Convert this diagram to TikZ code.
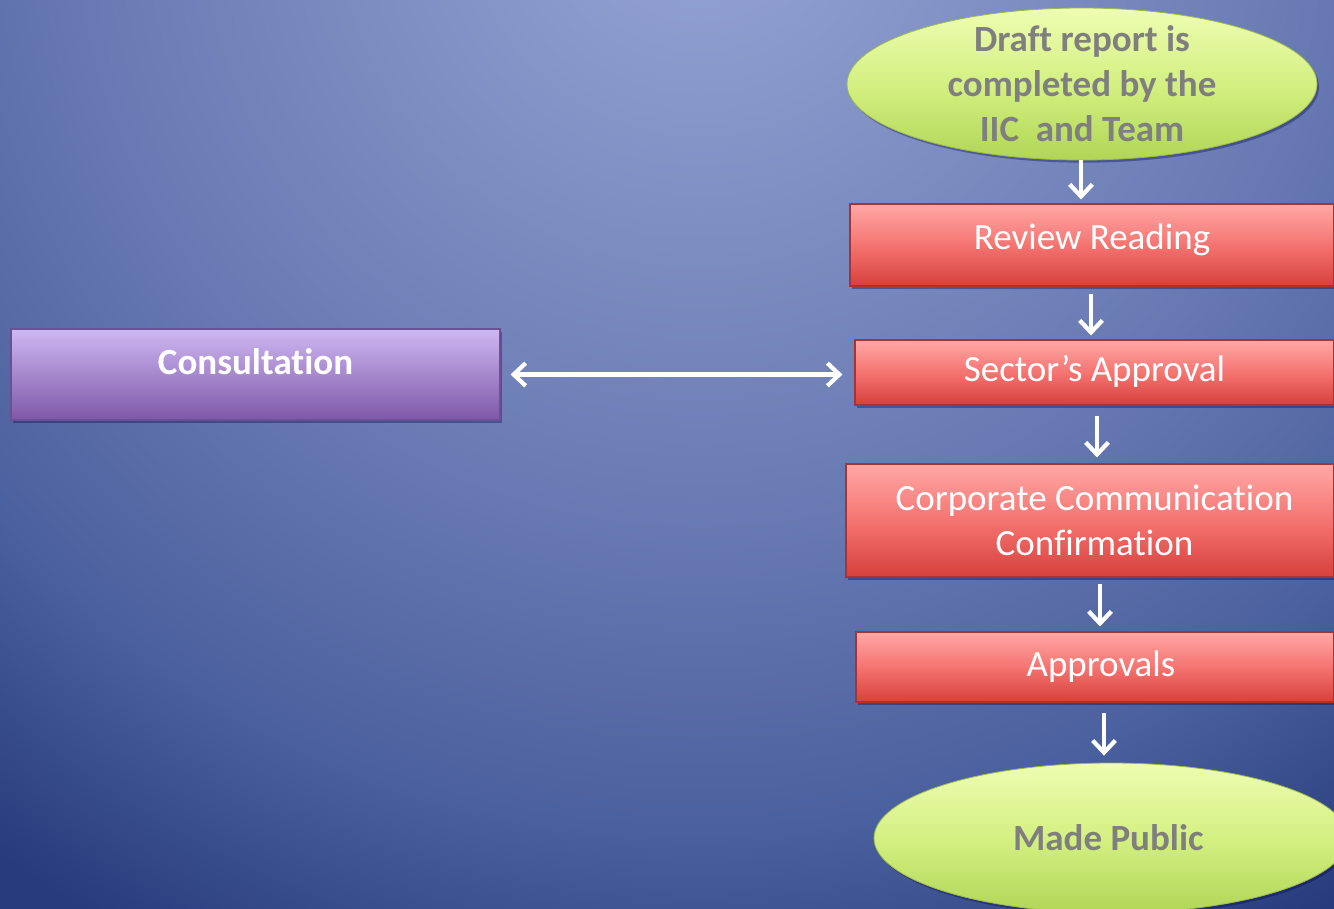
\documentclass[tikz,border=0pt]{standalone}
\usepackage{fontspec}
\setmainfont{Carlito}[Ligatures=NoCommon]
\usetikzlibrary{arrows.meta,shapes.geometric,shadows,calc}

\definecolor{bgc0}{RGB}{150,165,212}
\definecolor{bgc1}{RGB}{106,123,180}
\definecolor{bgc2}{RGB}{75,96,158}
\definecolor{bgc3}{RGB}{40,60,125}
\definecolor{redtop}{RGB}{255,168,166}
\definecolor{redmid}{RGB}{245,116,113}
\definecolor{redbot}{RGB}{214,64,60}
\definecolor{redline}{RGB}{168,52,50}
\definecolor{grtop}{RGB}{238,253,178}
\definecolor{grmid}{RGB}{212,240,130}
\definecolor{grbot}{RGB}{176,214,86}
\definecolor{grline}{RGB}{156,186,74}
\definecolor{putop}{RGB}{206,184,242}
\definecolor{pubot}{RGB}{126,88,168}
\definecolor{puline}{RGB}{108,80,150}
\definecolor{graytext}{RGB}{127,127,127}

% soft glow behind the flow, brightest near the top centre
\pgfdeclareradialshading{bgglow}{\pgfpoint{0bp}{0bp}}{%
  color(0bp)=(bgc0); color(24bp)=(bgc1); color(37bp)=(bgc2); color(47bp)=(bgc3); color(50bp)=(bgc3)}

\begin{document}
\begin{tikzpicture}[x=0.75pt,y=-0.75pt,
  basefont/.style={font=\fontsize{27.75}{33.75}\selectfont},
  softshadow/.style={drop shadow={opacity=0.35, shadow xshift=1.5pt, shadow yshift=-2pt, fill=black!70!blue}},
  stepbox/.style={rectangle, draw=redline, line width=0.8pt,
    top color=redtop, bottom color=redbot, middle color=redmid,
    text=white, basefont, align=center, inner sep=0pt, softshadow},
  terminal/.style={ellipse, draw=grline, line width=0.6pt,
    top color=grtop, bottom color=grbot, middle color=grmid,
    inner sep=0pt, softshadow},
  termtext/.style={text=graytext, font=\bfseries\fontsize{27.75}{33.75}\selectfont, align=center},
  sidebox/.style={rectangle, draw=puline, line width=0.8pt,
    top color=putop, bottom color=pubot, inner sep=0pt, softshadow},
  sidetext/.style={text=white, font=\bfseries\fontsize{27.75}{33.75}\selectfont},
  arr/.style={draw=white, line width=3.2pt, -{Straight Barb[length=9pt,width=17pt]}},
  dblarr/.style={draw=white, line width=3.2pt, {Straight Barb[length=9pt,width=17pt]}-{Straight Barb[length=9pt,width=17pt]}}
]
% background
\useasboundingbox (0,0) rectangle (1334,908);
\fill[bgc3] (0,0) rectangle (1334,908);
\begin{scope}
  \clip (0,0) rectangle (1334,908);
  \pgftransformshift{\pgfpointxy{700}{-100}}
  \pgftransformscale{18.8}
  \pgflowlevelsynccm
  \pgftext{\pgfuseshading{bgglow}}
\end{scope}

% flow nodes
\node[terminal, minimum width=352.5pt, minimum height=114pt,
  label={[termtext]center:{Draft report is\\completed by the\\IIC\ \ and Team}}] (top) at (1082,84) {};
\node[stepbox, minimum width=363pt, minimum height=61.5pt] (review) at (1092,245)
  {\raisebox{3.75pt}[\height][\depth]{Review Reading}};
\node[stepbox, minimum width=359.25pt, minimum height=48.75pt] (sector) at (1094.5,372.5)
  {\raisebox{1pt}[\height][\depth]{Sector’s Approval}};
\node[stepbox, minimum width=366pt, minimum height=84.75pt] (corp) at (1090,520.5)
  {\hspace*{6.75pt}Corporate Communication\\\hspace*{6.75pt}Confirmation};
\node[stepbox, minimum width=358.5pt, minimum height=52.5pt] (approvals) at (1095,667)
  {\hspace*{9pt}Approvals};
\node[terminal, minimum width=355.5pt, minimum height=112.5pt,
  label={[termtext, xshift=-2pt]center:{Made Public}}] (public) at (1111,838) {};

% side box
\node[sidebox, minimum width=366.75pt, minimum height=68.25pt,
  label={[sidetext, yshift=10pt]center:{Consultation}}] (cons) at (255.5,374.5) {};

% connectors
\draw[arr] ($(top.south)+(-1,0)$) -- ($(top.south |- review.north)+(-1,-4)$);
\draw[arr] ($(review.south)+(-1,7)$) -- ($(review.south |- sector.north)+(-1,-4)$);
\draw[arr] ($(sector.south)+(2.5,10)$) -- ($(sector.south |- corp.north)+(2.5,-6)$);
\draw[arr] ($(corp.south)+(10,6)$) -- ($(corp.south |- approvals.north)+(10,-5)$);
\draw[arr] ($(approvals.south)+(9,10)$) -- ($(approvals.south |- public.north)+(9,-7)$);
\draw[dblarr] ($(cons.east)+(10,0)$) -- ($(cons.east -| sector.west)+(-12,0)$);
\end{tikzpicture}
\end{document}
